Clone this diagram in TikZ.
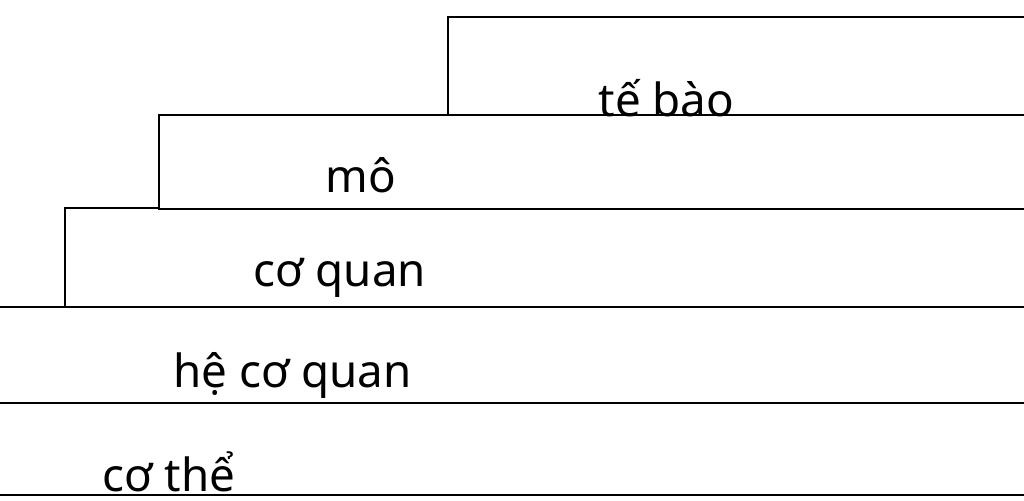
\documentclass[tikz,border=0pt]{standalone}
\usepackage{fontspec}
\setmainfont{Noto Sans}
\usetikzlibrary{positioning}

\begin{document}
\begin{tikzpicture}[x = 0.01cm, y = -0.01cm,
    stair/.style = {line width = 0.75pt, line cap = rect},
    level/.style = {inner sep = 0pt, anchor = base west, font = \fontsize{13}{16}\selectfont}]
      \useasboundingbox (0,0) rectangle (1024,501);
      % steps, from the top down
      \draw[stair] (1024,17) -- (448,17) -- (448,115) -- (159,115) -- (159,208) -- (65,208) -- (65,307) -- (0,307);
      \draw[stair] (448,115) -- (1024,115);
      \draw[stair] (159,209) -- (1024,209);
      \draw[stair] (65,307) -- (1024,307);
      \draw[stair] (0,403) -- (1024,403);
      \draw[stair] (0,495) -- (1024,495);
      % labels
      \node[level] (tb) at (598,117) {tế bào};
      \node[level] (mo) at (325,193) {mô};
      \node[level] (cq) at (253,287) {cơ quan};
      \node[level] (hcq) at (173,388) {hệ cơ quan};
      \node[level] (ct) at (102,492) {cơ thể};
    \end{tikzpicture}
\end{document}
